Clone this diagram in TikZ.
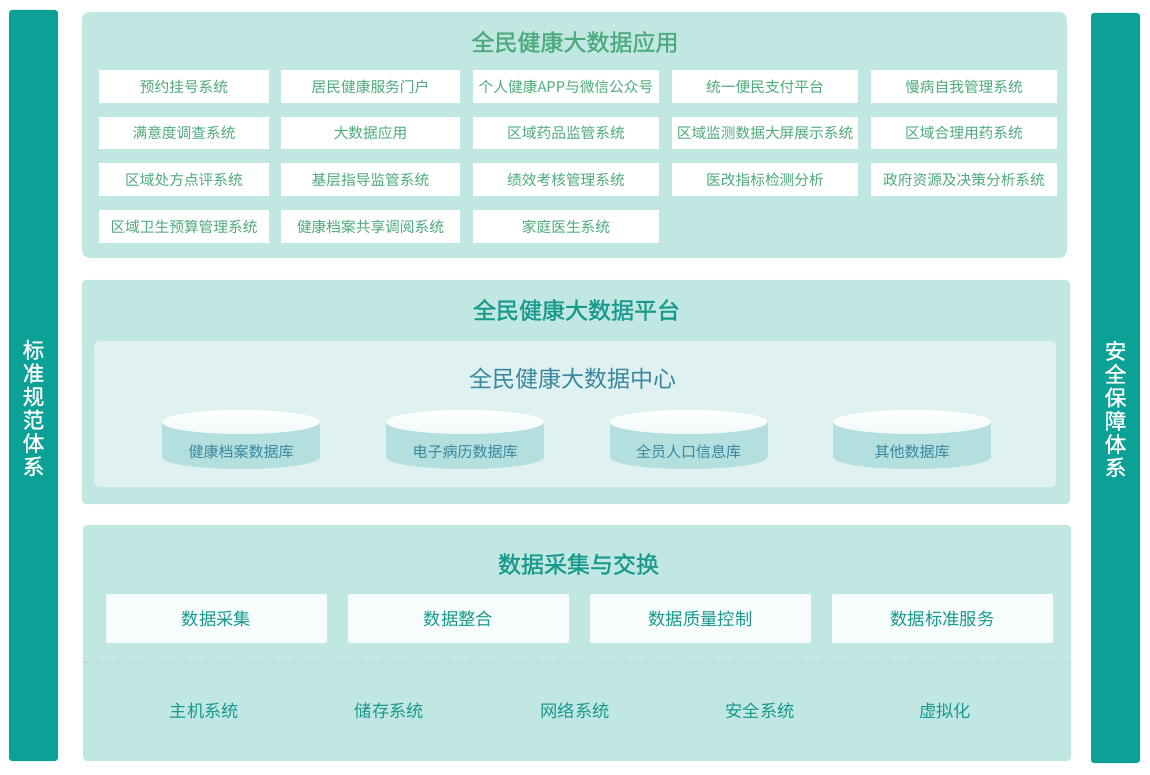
\documentclass[tikz,border=0pt]{standalone}
\usepackage{fontspec}
\setmainfont{Noto Sans CJK SC}
\newfontfamily\medfont{Noto Sans CJK SC}[FakeBold=1.2]
\usetikzlibrary{positioning}

\definecolor{panelbg}{HTML}{C1E7E3}
\definecolor{innerbg}{HTML}{DFF1F0}
\definecolor{barteal}{HTML}{0CA196}
\definecolor{appgreen}{HTML}{4DAA7C}
\definecolor{dbteal}{HTML}{17998C}
\definecolor{centerblue}{HTML}{3A88A0}
\definecolor{cylbody}{HTML}{B3DFDE}
\definecolor{cyltop}{HTML}{F1F9F9}
\definecolor{boxwhite}{HTML}{F7FCFC}
\definecolor{dashline}{HTML}{A8DBD7}

\tikzset{
  paneltitle/.style={inner sep=0pt,font=\medfont\fontsize{23}{26}\selectfont},
  appbox/.style={fill=white,inner sep=0pt,minimum height=32.5pt,text=appgreen,
    font=\fontsize{14.7}{16}\selectfont},
  xbox/.style={fill=boxwhite,rounded corners=2pt,inner sep=0pt,minimum width=221pt,
    minimum height=49pt,text=dbteal,font=\fontsize{17.3}{19}\selectfont},
  dblabel/.style={inner sep=0pt,text=centerblue,font=\fontsize{15}{17}\selectfont},
  syslabel/.style={inner sep=0pt,text=dbteal,font=\fontsize{17.3}{19}\selectfont},
  sidebar/.style={fill=barteal,rounded corners=3pt},
  sidetext/.style={inner sep=0pt,text=white,align=center,font=\medfont\fontsize{21.5}{23.3}\selectfont}
}

\begin{document}
\begin{tikzpicture}[x=1pt,y=-1pt]
\useasboundingbox (0,0) rectangle (1150,775);

% side bars
\fill[sidebar] (9,10) rectangle (58,761);
\fill[sidebar] (1091,13) rectangle (1140,763);
\node[sidetext] (stdtext) at (33.5,408) {标\\准\\规\\范\\体\\系};
\node[sidetext] (sectext) at (1115.5,409) {安\\全\\保\\障\\体\\系};

% application layer
\fill[panelbg,rounded corners=8pt] (82,12) rectangle (1067,258);
\node[paneltitle,text=appgreen] (apptitle) at (575,42) {全民健康大数据应用};
\node[appbox,minimum width=170pt] (app11) at (184,86.5) {预约挂号系统};
\node[appbox,minimum width=179pt] (app12) at (370.5,86.5) {居民健康服务门户};
\node[appbox,minimum width=186pt] (app13) at (566,86.5) {个人健康APP与微信公众号};
\node[appbox,minimum width=186pt] (app14) at (765,86.5) {统一便民支付平台};
\node[appbox,minimum width=186pt] (app15) at (964,86.5) {慢病自我管理系统};
\node[appbox,minimum width=170pt] (app21) at (184,133) {满意度调查系统};
\node[appbox,minimum width=179pt] (app22) at (370.5,133) {大数据应用};
\node[appbox,minimum width=186pt] (app23) at (566,133) {区域药品监管系统};
\node[appbox,minimum width=186pt] (app24) at (765,133) {区域监测数据大屏展示系统};
\node[appbox,minimum width=186pt] (app25) at (964,133) {区域合理用药系统};
\node[appbox,minimum width=170pt] (app31) at (184,179.5) {区域处方点评系统};
\node[appbox,minimum width=179pt] (app32) at (370.5,179.5) {基层指导监管系统};
\node[appbox,minimum width=186pt] (app33) at (566,179.5) {绩效考核管理系统};
\node[appbox,minimum width=186pt] (app34) at (765,179.5) {医改指标检测分析};
\node[appbox,minimum width=186pt] (app35) at (964,179.5) {政府资源及决策分析系统};
\node[appbox,minimum width=170pt] (app41) at (184,226.5) {区域卫生预算管理系统};
\node[appbox,minimum width=179pt] (app42) at (370.5,226.5) {健康档案共享调阅系统};
\node[appbox,minimum width=186pt] (app43) at (566,226.5) {家庭医生系统};

% platform layer
\fill[panelbg,rounded corners=4pt] (82,280) rectangle (1070,504);
\node[paneltitle,text=dbteal] (plattitle) at (576.5,310) {全民健康大数据平台};
\fill[innerbg,rounded corners=6pt] (94,341) rectangle (1056,487);
\node[inner sep=0pt,text=centerblue,font=\fontsize{23}{26}\selectfont] (centertitle) at (573,379) {全民健康大数据中心};
\foreach \cx/\name/\txt in {241/db1/健康档案数据库,465/db2/电子病历数据库,688.5/db3/全员人口信息库,912/db4/其他数据库}{
  \fill[cylbody] (\cx-79,422) rectangle (\cx+79,457);
  \fill[cylbody] (\cx,457) ellipse[x radius=79,y radius=12];
  \shade[top color=white,bottom color=cyltop] (\cx,422) ellipse[x radius=79,y radius=12];
  \node[dblabel] (\name) at (\cx,452) {\txt};
}

% exchange layer
\fill[panelbg,rounded corners=4pt] (83,525) rectangle (1071,761);
\node[paneltitle,text=dbteal] (xtitle) at (578.5,564) {数据采集与交换};
\node[xbox] (x1) at (216.5,618.5) {数据采集};
\node[xbox] (x2) at (458.5,618.5) {数据整合};
\node[xbox] (x3) at (700.5,618.5) {数据质量控制};
\node[xbox] (x4) at (942.5,618.5) {数据标准服务};
\draw[dashline,line width=1pt,dash pattern=on 6pt off 5pt] (83,662) -- (1071,662);
\foreach \cx/\name/\txt in {204.5/sys1/主机系统,389.5/sys2/储存系统,575/sys3/网络系统,760/sys4/安全系统,945/sys5/虚拟化}{
  \node[syslabel] (\name) at (\cx,711) {\txt};
}
\end{tikzpicture}
\end{document}
